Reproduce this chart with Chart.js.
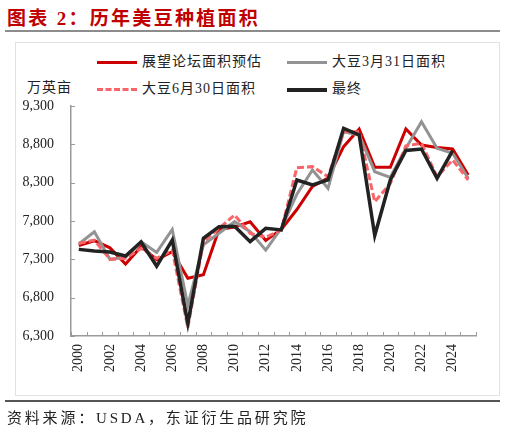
<!DOCTYPE html>
<html>
<head>
<meta charset="utf-8">
<script src="https://cdn.jsdelivr.net/npm/chart.js@4/dist/chart.umd.min.js"></script>
<style>
  html, body { margin: 0; padding: 0; background: #fff; }
  #page { position: relative; width: 506px; height: 432px; overflow: hidden;
    font-family: "Liberation Serif", "Noto Sans CJK SC", serif; color: #222; }
  #title { position: absolute; left: 7px; top: 3px; font-size: 19px; font-weight: bold;
    color: #c00000; letter-spacing: 2.3px; font-family: "Liberation Serif", "Noto Sans CJK SC"; }
  #titleLine { position: absolute; left: 5px; top: 30px; width: 495px; height: 2px; background: #8c8c8c; }
  #frame { position: absolute; left: 15px; top: 42px; width: 483px; height: 352px; border: 1px solid #e2e2e2; }
  #footLine { position: absolute; left: 5px; top: 400px; width: 495px; height: 2px; background: #555; }
  #foot { position: absolute; left: 7px; top: 406px; font-size: 15px; letter-spacing: 2.8px; }
  #unit { position: absolute; left: 27px; top: 76px; font-size: 14px; letter-spacing: 1px; }
  .lg { position: absolute; font-size: 14px; letter-spacing: 1px; line-height: 18px; }
  .sw { position: absolute; width: 40px; height: 0; }
  canvas { position: absolute; left: 0; top: 0; }
</style>
</head>
<body>
<div id="page">
  <div id="title">图表 2：历年美豆种植面积</div>
  <div id="titleLine"></div>
  <div id="frame"></div>
  <div id="unit">万英亩</div>
  <div id="legend"></div>
  <canvas id="chart" width="506" height="432"></canvas>
  <div id="footLine"></div>
  <div id="foot">资料来源：USDA，东证衍生品研究院</div>
</div>
<script>
const years = ['2000','2001','2002','2003','2004','2005','2006','2007','2008','2009','2010','2011','2012',
  '2013','2014','2015','2016','2017','2018','2019','2020','2021','2022','2023','2024','2025'];

const yTicks = [6300, 6800, 7300, 7800, 8300, 8800, 9300];

// 展望论坛面积预估
const outlook = [7480, 7543, 7450, 7240, 7465, 7295, 7400, 7053, 7100, 7690, 7720, 7790, 7545,
  7690, 7950, 8250, 8360, 8770, 9000, 8500, 8500, 9000, 8790, 8760, 8740, 8400];
// 大豆3月31日面积
const march = [7500, 7660, 7300, 7326, 7530, 7390, 7690, 6700, 7490, 7640, 7791, 7661, 7420,
  7704, 8150, 8465, 8226, 8965, 8922, 8443, 8370, 8748, 9096, 8748, 8683, 8357];
// 大豆6月30日面积
const june = [7509, 7550, 7300, 7313, 7443, 7313, 7422, 6410, 7530, 7704, 7878, 7639, 7587,
  7683, 8496, 8509, 8378, 8965, 8965, 8050, 8290, 8780, 8813, 8378, 8596, 8335];
// 最终
const final = [7430, 7410, 7395, 7343, 7526, 7210, 7552, 6466, 7574, 7726, 7730, 7530, 7704,
  7683, 8335, 8270, 8335, 9009, 8922, 7612, 8335, 8720, 8739, 8357, 8717, null];

const series = [
  { label: '展望论坛面积预估', data: outlook, color: '#cc0000', width: 3, dash: [], order: 3 },
  { label: '大豆3月31日面积', data: march, color: '#939393', width: 3, dash: [], order: 2 },
  { label: '大豆6月30日面积', data: june, color: '#f86468', width: 3, dash: [7, 3], order: 1 },
  { label: '最终', data: final, color: '#222222', width: 3.5, dash: [], order: 0 }
];

// legend (2 x 2)
const legendPos = [[97, 53], [287, 53], [97, 80], [287, 80]];
const legendEl = document.getElementById('legend');
series.forEach((s, i) => {
  const [lx, ly] = legendPos[i];
  const sw = document.createElement('div');
  sw.className = 'sw';
  sw.style.left = lx + 'px';
  sw.style.top = (ly + 8) + 'px';
  sw.style.borderTop = (s.width + 0.5) + 'px ' + (s.dash.length ? 'dashed ' : 'solid ') + s.color;
  legendEl.appendChild(sw);
  const t = document.createElement('div');
  t.className = 'lg';
  t.style.left = (lx + 45) + 'px';
  t.style.top = ly + 'px';
  t.textContent = s.label;
  legendEl.appendChild(t);
});

const axisColor = '#9a9a9a';

// inward tick marks on both axes
const innerTicks = {
  id: 'innerTicks',
  afterDraw(chart) {
    const { ctx, scales: { x, y } } = chart;
    ctx.save();
    ctx.strokeStyle = axisColor;
    ctx.lineWidth = 1;
    const step = x.getPixelForValue(1) - x.getPixelForValue(0);
    for (let i = 0; i <= years.length; i++) {
      const px = Math.round(x.getPixelForValue(i) - step / 2) + 0.5;
      ctx.beginPath();
      ctx.moveTo(px, y.bottom);
      ctx.lineTo(px, y.bottom - 4);
      ctx.stroke();
    }
    yTicks.forEach(v => {
      const py = Math.round(y.getPixelForValue(v)) + 0.5;
      ctx.beginPath();
      ctx.moveTo(x.left, py);
      ctx.lineTo(x.left + 4, py);
      ctx.stroke();
    });
    ctx.restore();
  }
};

new Chart(document.getElementById('chart'), {
  type: 'line',
  data: {
    labels: years,
    datasets: series.map(s => ({
      label: s.label,
      data: s.data,
      borderColor: s.color,
      backgroundColor: s.color,
      borderWidth: s.width,
      borderDash: s.dash,
      order: s.order,
      pointRadius: 0,
      tension: 0,
      fill: false,
      spanGaps: false
    }))
  },
  options: {
    responsive: false,
    animation: false,
    devicePixelRatio: 1,
    layout: { padding: { top: 106, right: 30, bottom: 36, left: 0 } },
    plugins: { legend: { display: false }, tooltip: { enabled: false } },
    scales: {
      x: {
        offset: true,
        grid: { display: false, drawTicks: false },
        border: { display: true, color: axisColor, width: 1.5 },
        ticks: {
          autoSkip: false,
          maxRotation: 90,
          minRotation: 90,
          padding: 8,
          color: '#222',
          font: { family: 'Liberation Serif', size: 14 },
          callback: (v, i) => (i % 2 === 0 ? years[i] : '')
        },
        afterFit: s => { s.height = 60; }
      },
      y: {
        min: 6300,
        max: 9300,
        grid: { display: false, drawTicks: false },
        border: { display: true, color: axisColor, width: 1.5 },
        afterBuildTicks: s => { s.ticks = yTicks.map(v => ({ value: v })); },
        ticks: {
          padding: 17,
          color: '#222',
          font: { family: 'Liberation Serif', size: 14 },
          callback: v => v.toLocaleString('en-US')
        },
        afterFit: s => { s.width = 71; }
      }
    }
  },
  plugins: [innerTicks]
});
</script>
</body>
</html>
